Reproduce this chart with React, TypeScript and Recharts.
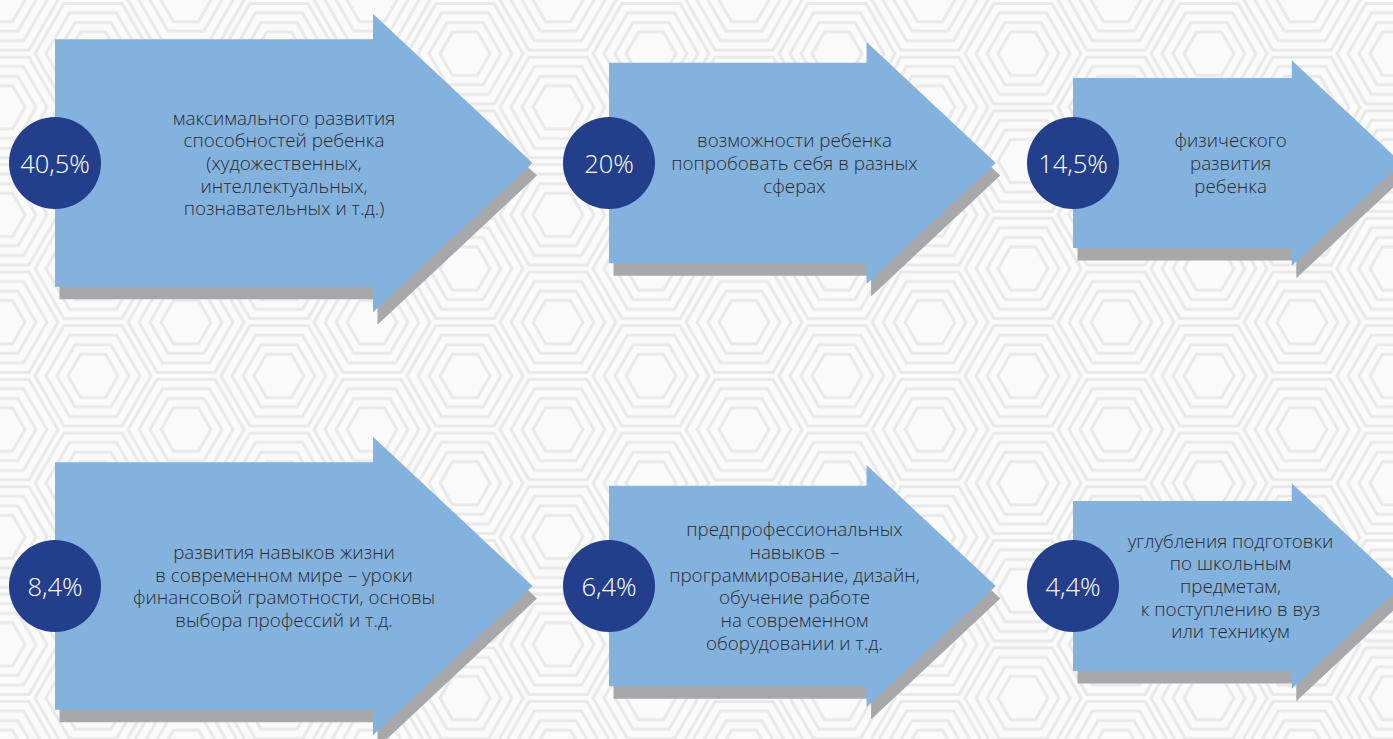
import React from "react";
import { ScatterChart, Scatter, XAxis, YAxis } from "recharts";

// ---- data ----
const ROWS = [0, 0, 0, 1, 1, 1];
const COLS = [0, 1, 2, 0, 1, 2];
const PERCENT_LABELS = ["40,5%", "20%", "14,5%", "8,4%", "6,4%", "4,4%"];
const PERCENT_VALUES = [40.5, 20, 14.5, 8.4, 6.4, 4.4];
const DESCRIPTIONS = [
  ["максимального развития", "способностей ребенка", "(художественных,", "интеллектуальных,", "познавательных и т.д.)"],
  ["возможности ребенка", "попробовать себя в разных", "сферах"],
  ["физического", "развития", "ребенка"],
  ["развития навыков жизни", "в современном мире – уроки", "финансовой грамотности, основы", "выбора профессий и т.д."],
  ["предпрофессиональных", "навыков –", "программирование, дизайн,", "обучение работе", "на современном", "оборудовании и т.д."],
  ["углубления подготовки", "по школьным", "предметам,", "к поступлению в вуз", "или техникум"],
];

const tableData = ROWS.map((row, i) => ({
  row,
  col: COLS[i],
  label: PERCENT_LABELS[i],
  value: PERCENT_VALUES[i],
  lines: DESCRIPTIONS[i],
}));

// ---- styles ----
const W = 1393;
const H = 739;
const COLUMN_SCALE = [1, 0.81, 0.688];
const COLUMN_SHIFT = [0, 45, 0];
const BLUE = "#84b2df";
const SHADOW = "#a7a8ac";
const NAVY = "#233f8b";
const TEXT = "#2b2b2b";
const FONT = "'Open Sans', Lato, 'Noto Sans', sans-serif";

const ArrowShape = (props: any) => {
  const { cx, cy, payload } = props;
  if (cx == null || cy == null || !payload) return null;
  const s = COLUMN_SCALE[payload.col];
  const L = cx + COLUMN_SHIFT[payload.col];
  const Y = cy;
  const bh = 123.7 * s;
  const hh = 149.3 * s;
  const bl = 318 * s;
  const hl = 159.5 * s;
  const pts = (dx: number, dy: number) =>
    [
      [L, Y - bh],
      [L + bl, Y - bh],
      [L + bl, Y - hh],
      [L + bl + hl, Y],
      [L + bl, Y + hh],
      [L + bl, Y + bh],
      [L, Y + bh],
    ]
      .map(([x, y]) => `${x + dx},${y + dy}`)
      .join(" ");
  const lines: string[] = payload.lines;
  const lh = 22.7;
  const tx = L + 229 * s;
  const startY = Y - ((lines.length - 1) * lh) / 2;
  return (
    <g>
      <polygon points={pts(4.5, 12.5)} fill={SHADOW} />
      <polygon points={pts(0, 0)} fill={BLUE} />
      <text
        textAnchor="middle"
        fontFamily={FONT}
        fontSize={18.8}
        fontWeight={300}
        fill={TEXT}
      >
        {lines.map((ln, i) => (
          <tspan key={i} x={tx} y={startY + i * lh} dominantBaseline="central">
            {ln}
          </tspan>
        ))}
      </text>
      <circle cx={L} cy={Y} r={46} fill={NAVY} />
      <text
        x={L}
        y={Y}
        textAnchor="middle"
        dominantBaseline="central"
        fontFamily={FONT}
        fontSize={25.5}
        fontWeight={300}
        fill="#ffffff"
      >
        {payload.label}
      </text>
    </g>
  );
};

const Background = () => {
  const R = 62;
  const h = Math.sqrt(3) * R;
  const hex = (cx: number, cy: number, r: number) => {
    const p: string[] = [];
    for (let k = 0; k < 6; k++) {
      const a = (Math.PI / 3) * k;
      p.push(`${cx + r * Math.cos(a)},${cy + r * Math.sin(a)}`);
    }
    return p.join(" ");
  };
  const centers = [
    [0, 0],
    [3 * R, 0],
    [0, h],
    [3 * R, h],
    [1.5 * R, h / 2],
  ];
  const radii = [58, 47, 36, 25];
  return (
    <svg width={W} height={H} style={{ position: "absolute", left: 0, top: 0 }}>
      <defs>
        <pattern id="hexbg" width={3 * R} height={h} patternUnits="userSpaceOnUse">
          <rect width={3 * R} height={h} fill="#fafafa" />
          {centers.map(([x, y], i) =>
            radii.map((r, j) => (
              <polygon
                key={`${i}-${j}`}
                points={hex(x, y, r)}
                fill="none"
                stroke="#e9e9e9"
                strokeWidth={3}
              />
            ))
          )}
        </pattern>
      </defs>
      <rect width={W} height={H} fill="url(#hexbg)" />
    </svg>
  );
};

export default function App() {
  return (
    <div style={{ position: "absolute", left: 0, top: 0, width: W, height: H, overflow: "hidden" }}>
      <Background />
      <div style={{ position: "absolute", left: 0, top: 0 }}>
        <ScatterChart
          width={W}
          height={H}
          margin={{ top: 163, bottom: 153, left: 55, right: 320 }}
        >
          <XAxis type="number" dataKey="col" domain={[0, 2]} hide />
          <YAxis type="number" dataKey="row" domain={[0, 1]} reversed hide />
          <Scatter data={tableData} shape={ArrowShape} isAnimationActive={false} />
        </ScatterChart>
      </div>
    </div>
  );
}
